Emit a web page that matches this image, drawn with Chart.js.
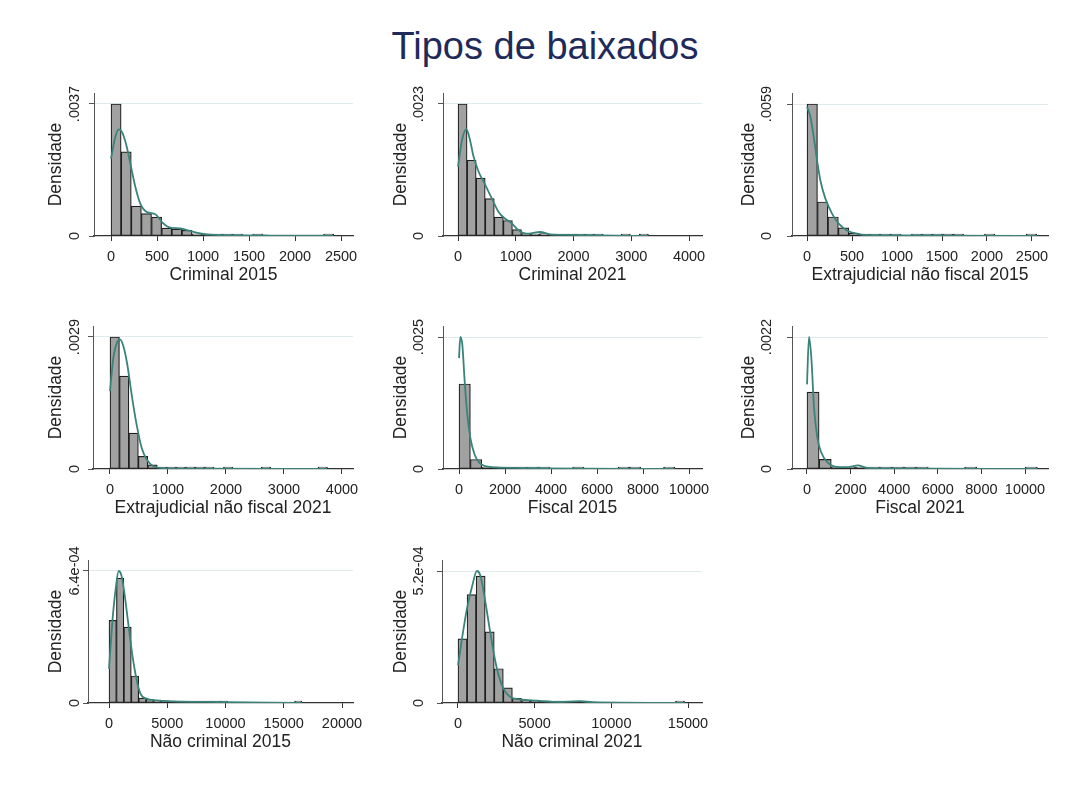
<!DOCTYPE html>
<html lang="pt">
<head>
<meta charset="utf-8">
<title>Tipos de baixados</title>
<script src="https://cdn.jsdelivr.net/npm/chart.js@4.4.1/dist/chart.umd.min.js"></script>
<style>
  html, body { margin: 0; padding: 0; background: #ffffff; }
  body { position: relative; width: 1066px; height: 793px; overflow: hidden;
         font-family: "Liberation Sans", Arial, Helvetica, sans-serif; }
  #title { position: absolute; left: 0; top: 27px; width: 1090px; text-align: center;
           font-size: 38px; line-height: 38px; color: #1e2b5a; }
  canvas { position: absolute; }
</style>
</head>
<body>
<div id="title">Tipos de baixados</div>
<script>
// ---------- Histogram data: density per bin, kernel density curve, axis ticks ----------

// Criminal 2015
const crim15BinStart = 0, crim15BinWidth = 110;
const crim15Density = [0.0037, 0.00236, 0.00084, 0.00063, 0.00053, 0.00022, 0.00019, 0.00016, 0.00006, 0.00003,
  0.00002, 0.00001, 0.00001, null, 0.00002, null, null, null, null, null, null, 0.00002];
const crim15KdeX = [0, 47, 83, 119, 166, 210, 264, 318, 391, 481, 554, 626, 752, 861, 970, 1114, 1404, 1585, 1766, 2417];
const crim15KdeY = [0.00217, 0.00278, 0.00299, 0.00292, 0.00255, 0.00203, 0.00138, 0.00091, 0.00067, 0.00061,
  0.00039, 0.00025, 0.00021, 0.00014, 0.00007, 0.00003, 0.00002, 0.00002, 0.00001, 0.00001];
const crim15XTicks = [0, 500, 1000, 1500, 2000, 2500];
const crim15YTicks = [0, 0.0037];
const crim15YLabels = ['0', '.0037'];

// Criminal 2021
const crim21BinStart = 0, crim21BinWidth = 157;
const crim21Density = [0.0023, 0.00132, 0.00101, 0.00065, 0.00033, 0.00027, 0.00011, 0.00004, 0.00003, 0.00004,
  0.00002, 0.00001, 0.00001, 0.00001, 0.00001, 0.00001, null, null, 0.00001, null, 0.00001];
const crim21KdeX = [0, 69, 144, 201, 270, 357, 472, 587, 702, 817, 932, 1047, 1191, 1422, 1594, 1882, 2486, 3292];
const crim21KdeY = [0.00121, 0.00167, 0.00186, 0.0017, 0.00138, 0.00112, 0.00089, 0.00065, 0.00042, 0.0003,
  0.00022, 0.0001, 0.00004, 0.00007, 0.00003, 0.00002, 0.00001, 0];
const crim21XTicks = [0, 1000, 2000, 3000, 4000];
const crim21YTicks = [0, 0.0023];
const crim21YLabels = ['0', '.0023'];

// Extrajudicial não fiscal 2015
const extra15BinStart = 0, extra15BinWidth = 116;
const extra15Density = [0.0059, 0.00152, 0.00085, 0.00036, 0.00013, 0.00007, 0.00004, 0.00003, 0.00003, null,
  0.00002, 0.00002, 0.00002, 0.00002, 0.00002, null, null, 0.00002, null, null, null, 0.00002];
const extra15KdeX = [0, 37, 74, 111, 148, 204, 278, 352, 444, 556, 704, 1074, 1630, 2556];
const extra15KdeY = [0.00578, 0.00533, 0.00444, 0.00339, 0.00249, 0.00167, 0.001, 0.00055, 0.00025, 0.0001,
  0.00004, 0.00003, 0.00002, 0];
const extra15XTicks = [0, 500, 1000, 1500, 2000, 2500];
const extra15YTicks = [0, 0.0059];
const extra15YLabels = ['0', '.0059'];

// Extrajudicial não fiscal 2021
const extra21BinStart = 0, extra21BinWidth = 163;
const extra21Density = [0.0029, 0.00204, 0.00079, 0.00028, 0.00009, 0.00004, 0.00003, 0.00002, 0.00002, 0.00001,
  0.00001, null, 0.00001, null, null, null, 0.00001, null, null, null, null, null, 0.00001];
const extra21KdeX = [0, 58, 127, 173, 230, 299, 374, 460, 547, 633, 748, 921, 1381, 1727, 3741];
const extra21KdeY = [0.00171, 0.00244, 0.0028, 0.00285, 0.0027, 0.00229, 0.00163, 0.00097, 0.00046, 0.00021,
  0.00006, 0.00002, 0.00001, 0.00001, 0];
const extra21XTicks = [0, 1000, 2000, 3000, 4000];
const extra21YTicks = [0, 0.0029];
const extra21YLabels = ['0', '.0029'];

// Fiscal 2015
const fisc15BinStart = 0, fisc15BinWidth = 494;
const fisc15Density = [0.00161, 0.00018, 0.00003, 0.00002, 0.00001, 0.00001, 0.00001, 0.00001, null, null,
  0.00001, null, null, null, 0.00001, 0.00001, null, null, 0.00001];
const fisc15KdeX = [0, 58, 145, 246, 348, 493, 681, 899, 1188, 1623, 2348, 3797, 9377];
const fisc15KdeY = [0.0021, 0.0025, 0.00235, 0.00166, 0.00109, 0.00059, 0.00027, 0.00011, 0.00005, 0.00003,
  0.00002, 0.00001, 0];
const fisc15XTicks = [0, 2000, 4000, 6000, 8000, 10000];
const fisc15YTicks = [0, 0.0025];
const fisc15YLabels = ['0', '.0025'];

// Fiscal 2021
const fisc21BinStart = 0, fisc21BinWidth = 556;
const fisc21Density = [0.00128, 0.00016, 0.00003, 0.00002, 0.00001, 0.00001, 0.00001, 0.00001, 0.00001, 0.00001,
  null, null, null, 0.00001, null, null, null, null, 0.00001];
const fisc21KdeX = [0, 92, 200, 323, 476, 661, 891, 1275, 1813, 2350, 2734, 3963, 10568];
const fisc21KdeY = [0.00141, 0.0022, 0.00185, 0.00102, 0.00052, 0.00027, 0.00013, 0.00004, 0.00003, 0.00006,
  0.00002, 0.00001, 0];
const fisc21XTicks = [0, 2000, 4000, 6000, 8000, 10000];
const fisc21YTicks = [0, 0.0022];
const fisc21YLabels = ['0', '.0022'];

// Não criminal 2015
const ncrim15BinStart = 0, ncrim15BinWidth = 637;
const ncrim15Density = [0.000401, 0.000606, 0.000368, 0.000131, 0.000024, 0.000018, 0.000013, 0.000011, 0.000006, 0.000006,
  0.000006, 0.000006, 0.000003, 0.000003, 0.000003, 0.000003, null, null, null, null,
  null, null, null, null, null, 0.000003];
const ncrim15KdeX = [0, 287, 574, 832, 1062, 1349, 1636, 2009, 2353, 2697, 3214, 4075, 5509, 8379, 16557];
const ncrim15KdeY = [0.000166, 0.000393, 0.000554, 0.00064, 0.000619, 0.000522, 0.000393, 0.000231, 0.000118, 0.000045,
  0.000021, 0.000013, 0.000008, 0.000005, 0];
const ncrim15XTicks = [0, 5000, 10000, 15000, 20000];
const ncrim15YTicks = [0, 0.00064];
const ncrim15YLabels = ['0', '6.4e-04'];

// Não criminal 2021
const ncrim21BinStart = 0, ncrim21BinWidth = 591;
const ncrim21Density = [0.000253, 0.000427, 0.0005, 0.00028, 0.000135, 0.00006, 0.000018, 0.00001, 0.000008, 0.000006,
  0.000004, 0.000004, 0.000003, 0.000004, null, null, null, null, null, null,
  null, null, null, null, 0.000003];
const ncrim21KdeX = [0, 260, 585, 910, 1236, 1452, 1713, 1994, 2320, 2645, 2970, 3403, 4054, 5138, 6655, 7956, 8823, 14784];
const ncrim21KdeY = [0.000148, 0.000253, 0.000372, 0.000457, 0.00052, 0.000503, 0.000424, 0.000319, 0.0002, 0.000109,
  0.000056, 0.000024, 0.000014, 0.000009, 0.000004, 0.000007, 0.000003, 0];
const ncrim21XTicks = [0, 5000, 10000, 15000];
const ncrim21YTicks = [0, 0.00052];
const ncrim21YLabels = ['0', '5.2e-04'];

// ---------- Panel table built from the arrays above ----------
const panels = [
  { title: 'Criminal 2015', start: crim15BinStart, width: crim15BinWidth, dens: crim15Density,
    kdeX: crim15KdeX, kdeY: crim15KdeY, xTicks: crim15XTicks, yTicks: crim15YTicks, yLabels: crim15YLabels },
  { title: 'Criminal 2021', start: crim21BinStart, width: crim21BinWidth, dens: crim21Density,
    kdeX: crim21KdeX, kdeY: crim21KdeY, xTicks: crim21XTicks, yTicks: crim21YTicks, yLabels: crim21YLabels },
  { title: 'Extrajudicial não fiscal 2015', start: extra15BinStart, width: extra15BinWidth, dens: extra15Density,
    kdeX: extra15KdeX, kdeY: extra15KdeY, xTicks: extra15XTicks, yTicks: extra15YTicks, yLabels: extra15YLabels },
  { title: 'Extrajudicial não fiscal 2021', start: extra21BinStart, width: extra21BinWidth, dens: extra21Density,
    kdeX: extra21KdeX, kdeY: extra21KdeY, xTicks: extra21XTicks, yTicks: extra21YTicks, yLabels: extra21YLabels },
  { title: 'Fiscal 2015', start: fisc15BinStart, width: fisc15BinWidth, dens: fisc15Density,
    kdeX: fisc15KdeX, kdeY: fisc15KdeY, xTicks: fisc15XTicks, yTicks: fisc15YTicks, yLabels: fisc15YLabels },
  { title: 'Fiscal 2021', start: fisc21BinStart, width: fisc21BinWidth, dens: fisc21Density,
    kdeX: fisc21KdeX, kdeY: fisc21KdeY, xTicks: fisc21XTicks, yTicks: fisc21YTicks, yLabels: fisc21YLabels },
  { title: 'Não criminal 2015', start: ncrim15BinStart, width: ncrim15BinWidth, dens: ncrim15Density,
    kdeX: ncrim15KdeX, kdeY: ncrim15KdeY, xTicks: ncrim15XTicks, yTicks: ncrim15YTicks, yLabels: ncrim15YLabels },
  { title: 'Não criminal 2021', start: ncrim21BinStart, width: ncrim21BinWidth, dens: ncrim21Density,
    kdeX: ncrim21KdeX, kdeY: ncrim21KdeY, xTicks: ncrim21XTicks, yTicks: ncrim21YTicks, yLabels: ncrim21YLabels }
];

// ---------- Layout of the 3x3 grid (page pixels) and x-axis ranges ----------
const rowTop = [93, 326, 560];       // top of each plot region
const rowBottom = [236, 469, 703];   // x-axis line
const rowTickTop = [104, 337, 571];  // pixel of the upper y tick
const colTickX = [75, 419, 767];     // centre of the rotated y tick labels
const colTitleX = [57, 402, 750];    // centre of the rotated "Densidade" title
const frames = [
  { L: 94,  R: 353,  xmin: -185,  xmax: 2630 },
  { L: 443, R: 702,  xmin: -260,  xmax: 4225 },
  { L: 792, R: 1048, xmin: -167,  xmax: 2678 },
  { L: 93,  R: 353,  xmin: -293,  xmax: 4190 },
  { L: 443, R: 702,  xmin: -696,  xmax: 10565 },
  { L: 792, R: 1048, xmin: -688,  xmax: 11055 },
  { L: 88,  R: 353,  xmin: -1803, xmax: 20944 },
  { L: 442, R: 702,  xmin: -1043, xmax: 15913 }
];

const FONT = '"Liberation Sans", Arial, Helvetica, sans-serif';
const TICK_SIZE = 14.5, TITLE_SIZE = 17.5, TICK_LEN = 5;
const TEXT = '#222222', AXIS = '#333333';
const BAR_FILL = '#a1a1a1', BAR_EDGE = '#1e1e1e', KDE = '#3a837b', GRID = '#e0e9ec';

const measure = document.createElement('canvas').getContext('2d');
measure.font = TICK_SIZE + 'px ' + FONT;

panels.forEach((p, k) => {
  const f = frames[k];
  const row = Math.floor(k / 3), col = k % 3;
  const T = rowTop[row], B = rowBottom[row];
  const yMax = p.yTicks[1] * (B - T) / (B - rowTickTop[row]);

  const W = Math.round(f.L - colTitleX[col] + TITLE_SIZE * 0.6);
  const H = Math.round(39 + TITLE_SIZE * 0.6);
  const padTop = 20, padRight = 34;

  const canvas = document.createElement('canvas');
  canvas.width = W + (f.R - f.L) + padRight;
  canvas.height = padTop + (B - T) + H;
  canvas.style.left = (f.L - W) + 'px';
  canvas.style.top = (T - padTop) + 'px';
  document.body.appendChild(canvas);

  const widest = Math.max(...p.yLabels.map(s => measure.measureText(s).width));
  const yPad = f.L - colTickX[col] - TICK_LEN - widest / 2;
  const xPad = 21 - TICK_LEN - TICK_SIZE * 0.6;

  new Chart(canvas, {
    type: 'bar',
    data: {
      datasets: [
        {
          type: 'line', order: 0,
          data: p.kdeX.map((x, i) => ({ x: x, y: p.kdeY[i] })),
          borderColor: KDE, borderWidth: 1.8, pointRadius: 0,
          cubicInterpolationMode: 'monotone', fill: false
        },
        {
          type: 'bar', order: 1,
          data: p.dens.map((y, i) => ({ x: p.start + (i + 0.5) * p.width, y: y })),
          backgroundColor: BAR_FILL, borderColor: BAR_EDGE, borderWidth: 1.2,
          borderSkipped: false, barPercentage: 1, categoryPercentage: 1, minBarLength: 2
        }
      ]
    },
    options: {
      responsive: false, animation: false, events: [], devicePixelRatio: 1,
      layout: { padding: { top: padTop, right: padRight, left: 0, bottom: 0 } },
      plugins: { legend: { display: false }, tooltip: { enabled: false } },
      scales: {
        x: {
          type: 'linear', position: 'bottom', min: f.xmin, max: f.xmax, offset: false,
          afterBuildTicks: s => { s.ticks = p.xTicks.map(v => ({ value: v })); },
          afterFit: s => { s.height = H; },
          ticks: {
            autoSkip: false, minRotation: 0, maxRotation: 0, padding: xPad,
            font: { size: TICK_SIZE, family: FONT }, color: TEXT,
            callback: (v, i) => String(p.xTicks[i])
          },
          grid: { offset: false, drawOnChartArea: false, tickLength: TICK_LEN, tickColor: AXIS, tickWidth: 1 },
          border: { color: AXIS, width: 1.2 },
          title: { display: true, text: p.title, font: { size: TITLE_SIZE, family: FONT }, color: TEXT,
                   padding: { top: 0, bottom: 0 } }
        },
        y: {
          type: 'linear', min: 0, max: yMax,
          afterBuildTicks: s => { s.ticks = p.yTicks.map(v => ({ value: v })); },
          afterFit: s => { s.width = W; },
          ticks: {
            autoSkip: false, minRotation: 90, maxRotation: 90, crossAlign: 'center', padding: yPad,
            font: { size: TICK_SIZE, family: FONT }, color: TEXT,
            callback: (v, i) => p.yLabels[i]
          },
          grid: {
            color: c => (c.tick && c.tick.value > 0) ? GRID : 'rgba(0,0,0,0)',
            lineWidth: 1, tickLength: TICK_LEN, tickColor: '#555555', tickWidth: 1
          },
          border: { color: '#555555', width: 1 },
          title: { display: true, text: 'Densidade', font: { size: TITLE_SIZE, family: FONT }, color: TEXT,
                   padding: { top: 0, bottom: 0 } }
        }
      }
    }
  });
});
</script>
</body>
</html>
